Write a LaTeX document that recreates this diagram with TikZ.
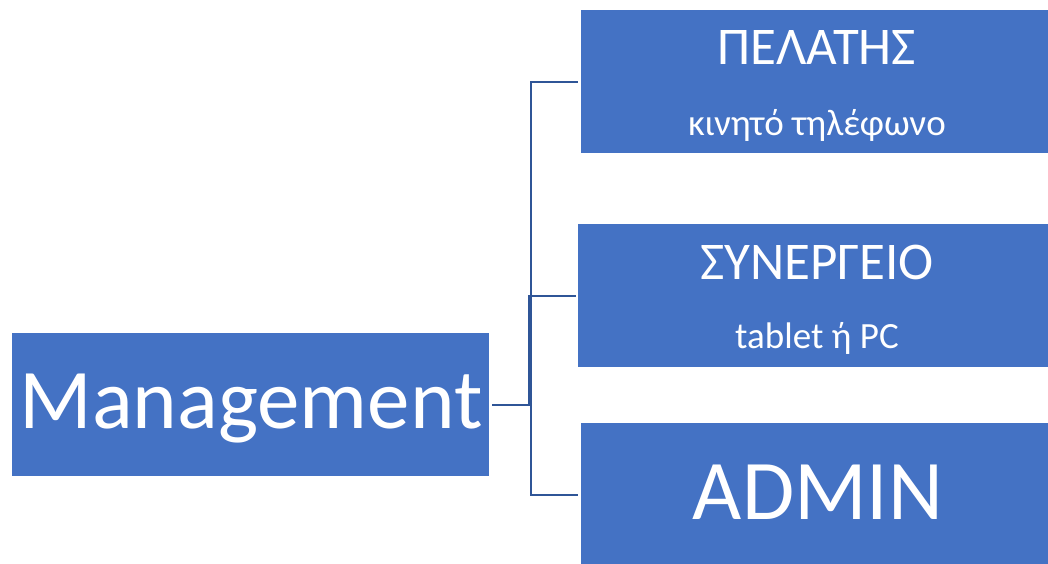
\documentclass[tikz,border=0pt]{standalone}
\usepackage{fontspec}
\setmainfont{Carlito}
\definecolor{boxblue}{HTML}{4472C4}
\definecolor{linkblue}{HTML}{2F5597}
\begin{document}
\begin{tikzpicture}[x=1pt,y=-1pt,
  block/.style={fill=boxblue, draw=none, inner sep=0pt, outer sep=0pt, anchor=north west},
  bigtext/.style={text=white, font=\fontsize{85}{85}\selectfont, anchor=base, inner sep=0pt},
  headtext/.style={text=white, font=\fontsize{53}{53}\selectfont, anchor=base, inner sep=0pt},
  subtext/.style={text=white, font=\fontsize{37}{37}\selectfont, anchor=base, inner sep=0pt},
  link/.style={draw=linkblue, line width=2pt}]
\useasboundingbox (0,0) rectangle (1048,563);

% boxes
\node[block, minimum width=477pt, minimum height=143pt] (mgmt) at (12,333) {};
\node[block, minimum width=467pt, minimum height=143pt] (client) at (581,10) {};
\node[block, minimum width=470pt, minimum height=143pt] (garage) at (578,224) {};
\node[block, minimum width=467pt, minimum height=143pt] (admin) at (581,423) {};

% labels
\node[bigtext]  (mgmtT)   at (251,428) {Management};
\node[headtext] (clientT) at (817,64)  {ΠΕΛΑΤΗΣ};
\node[subtext]  (clientS) at (817,135) {κινητό τηλέφωνο};
\node[headtext] (garageT) at (817,279) {ΣΥΝΕΡΓΕΙΟ};
\node[subtext]  (garageS) at (817,348) {tablet ή PC};
\node[bigtext]  (adminT)  at (818,519) {ADMIN};

% elbow connectors
\coordinate (busA) at (531,0);
\coordinate (busB) at (528.5,0);
\draw[link] ([xshift=3pt]mgmt.east) -- (mgmt.east -| busA) |- ([xshift=-3pt]client.west);
\draw[link] ([xshift=3pt]mgmt.east) -- (mgmt.east -| busB) |- ([xshift=-2pt]garage.west);
\draw[link] ([xshift=3pt]mgmt.east) -- (mgmt.east -| busA) |- ([xshift=-3pt]admin.west);
\end{tikzpicture}
\end{document}
